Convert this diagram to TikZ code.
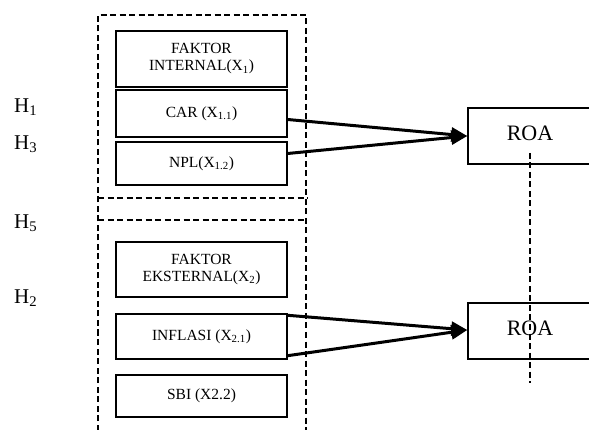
\documentclass[tikz,border=0pt]{standalone}
\usepackage{fontspec}
\setmainfont{Liberation Serif}
\usetikzlibrary{arrows.meta}
\begin{document}
\begin{tikzpicture}[x=1pt,y=-1pt,
  varbox/.style={draw,line width=1.4pt,minimum width=171pt,align=center,font=\fontsize{15.5}{17}\selectfont,inner sep=0pt},
  roabox/.style={draw,line width=1.4pt,minimum width=124pt,minimum height=56pt,font=\fontsize{22}{24}\selectfont,inner sep=0pt},
  hlabel/.style={anchor=west,font=\fontsize{21}{23}\selectfont,inner sep=0pt},
  thickdash/.style={line width=2.4pt,dash pattern=on 6pt off 3.5pt},
  thindash/.style={line width=1.8pt,dash pattern=on 6pt off 3.5pt},
  arr/.style={line width=3pt,-{Triangle[length=16pt,width=14pt]}}]
\clip (0,0) rectangle (589,430);
% dashed frames
\draw[thickdash] (98,440) -- (98,15) -- (306,15) -- (306,440);
\draw[thickdash] (98,198) -- (308,198);
\draw[thindash] (98,220) -- (306,220);
% boxes
\node[varbox,minimum height=56pt] (fi) at (201.5,59) {FAKTOR\\INTERNAL(X\textsubscript{1})};
\node[varbox,minimum height=47pt] (car) at (201.5,113.5) {CAR (X\textsubscript{1.1})};
\node[varbox,minimum height=43pt] (npl) at (201.5,163.5) {NPL(X\textsubscript{1.2})};
\node[varbox,minimum height=55pt] (fe) at (201.5,269.5) {FAKTOR\\EKSTERNAL(X\textsubscript{2})};
\node[varbox,minimum height=45pt] (inf) at (201.5,336.5) {INFLASI (X\textsubscript{2.1})};
\node[varbox,minimum height=42pt] (sbi) at (201.5,396) {SBI (X2.2)};
\node[roabox] (roa1) at (530,136) {\raisebox{5pt}{ROA}};
\node[roabox] (roa2) at (530,331) {\raisebox{5pt}{ROA}};
% hypotheses
\node[hlabel] (h1) at (14,107) {H\textsubscript{1}};
\node[hlabel] (h3) at (14,144) {H\textsubscript{3}};
\node[hlabel] (h5) at (14,223) {H\textsubscript{5}};
\node[hlabel] (h2) at (14,298) {H\textsubscript{2}};
% arrows
\coordinate (t1) at (roa1.west);
\coordinate (t2) at ([yshift=1pt]roa2.west);
\coordinate (s1) at ([yshift=-6pt]car.east);
\coordinate (s2) at ([yshift=10pt]npl.east);
\coordinate (s3) at ([yshift=-2pt]inf.north east);
\coordinate (s4) at ([yshift=4pt]inf.south east);
\draw[arr] (s1) -- (t1);
\draw[arr] (s2) -- (t1);
\draw[arr] (s3) -- (t2);
\draw[arr] (s4) -- (t2);
% vertical dashed line
\coordinate (v1) at (530,153);
\coordinate (v2) at (530,383);
\draw[thickdash] (v1) -- (v2);
\end{tikzpicture}
\end{document}
